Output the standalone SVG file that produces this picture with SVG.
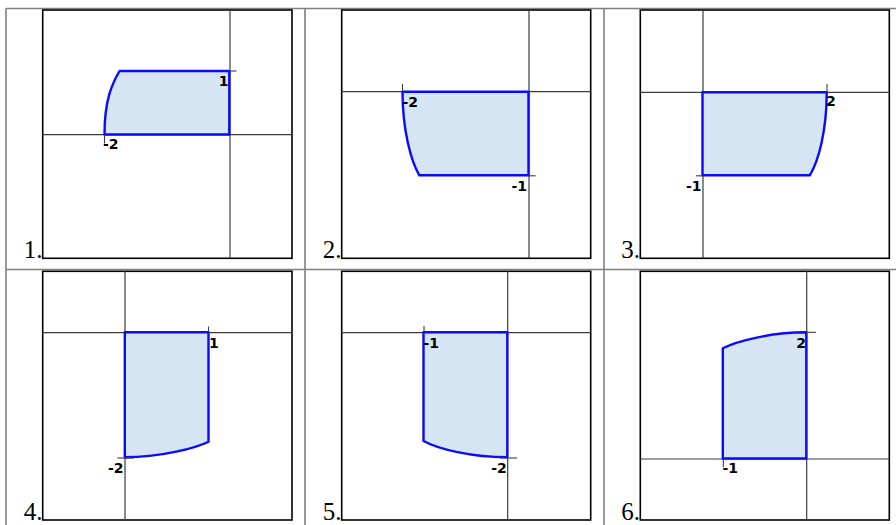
<svg xmlns="http://www.w3.org/2000/svg" width="896" height="525" viewBox="0 0 896 525">
<style>
.tbl{stroke:#808080;stroke-width:1.6;fill:none}
.frame{fill:#fff;stroke:#000;stroke-width:1.6}
.axis{stroke:#3c3c3c;stroke-width:1.2;fill:none}
.tick{stroke:#3c3c3c;stroke-width:1.1;fill:none}
.region{fill:#d6e5f4;stroke:#0a0aff;stroke-width:2.4;stroke-linejoin:round}
.num{font-family:"Liberation Serif","Times New Roman",serif;font-size:25px;fill:#000;text-anchor:end}
.lab{font-family:"DejaVu Sans",sans-serif;font-size:14px;font-weight:bold;fill:#000}
.end{text-anchor:end}
</style>
<rect width="896" height="525" fill="#fff"/>
<g id="table">
<line class="tbl" x1="6" y1="8.5" x2="896" y2="8.5"/>
<line class="tbl" x1="6" y1="269.5" x2="896" y2="269.5"/>
<line class="tbl" x1="6" y1="8.5" x2="6" y2="525"/>
<line class="tbl" x1="305" y1="8.5" x2="305" y2="525"/>
<line class="tbl" x1="604" y1="8.5" x2="604" y2="525"/>
</g>
<g id="plot1">
<rect class="frame" x="42.7" y="10" width="249.3" height="248.3"/>
<line class="axis" x1="230" y1="10" x2="230" y2="258.3"/>
<line class="axis" x1="42.7" y1="134.7" x2="292" y2="134.7"/>
<path class="region" d="M119.5,71 L229.3,71 L229.3,134.5 L104.5,134.5 C104.5,100 112,84 119.5,71 Z"/>
<line class="tick" x1="229.3" y1="71" x2="236.5" y2="71"/>
<line class="tick" x1="104.5" y1="134.7" x2="104.5" y2="143.5"/>
<text class="lab end" x="228.5" y="86">1</text>
<text class="lab" x="103" y="148.5">-2</text>
<text class="num" x="42.5" y="258">1.</text>
</g>
<g id="plot2">
<rect class="frame" x="341.7" y="10" width="249" height="248.3"/>
<line class="axis" x1="529" y1="10" x2="529" y2="258.3"/>
<line class="axis" x1="341.7" y1="91.7" x2="590.7" y2="91.7"/>
<path class="region" d="M402.5,91.7 L528.5,91.7 L528.5,175.3 L419.3,175.3 C411,161 402.5,130 402.5,91.7 Z"/>
<line class="tick" x1="402.5" y1="84" x2="402.5" y2="91.7"/>
<line class="tick" x1="528.5" y1="175.8" x2="535.7" y2="175.8"/>
<text class="lab" x="402.5" y="106.5">-2</text>
<text class="lab end" x="527" y="190.5">-1</text>
<text class="num" x="341.5" y="258">2.</text>
</g>
<g id="plot3">
<rect class="frame" x="640.3" y="10" width="249" height="248.3"/>
<line class="axis" x1="703" y1="10" x2="703" y2="258.3"/>
<line class="axis" x1="640.3" y1="92.3" x2="889.3" y2="92.3"/>
<path class="region" d="M702.5,92.3 L826.7,92.3 C826.7,131 818.5,161 809.8,175.3 L702.5,175.3 Z"/>
<line class="tick" x1="827" y1="84" x2="827" y2="92.3"/>
<line class="tick" x1="696" y1="175.8" x2="703" y2="175.8"/>
<text class="lab" x="826" y="105.5">2</text>
<text class="lab end" x="701.5" y="190.5">-1</text>
<text class="num" x="640" y="258">3.</text>
</g>
<g id="plot4">
<rect class="frame" x="42.7" y="271.3" width="249.3" height="248.7"/>
<line class="axis" x1="125" y1="271.3" x2="125" y2="520"/>
<line class="axis" x1="42.7" y1="332.7" x2="292" y2="332.7"/>
<path class="region" d="M124.8,332.3 L208.5,332.3 L208.5,441.7 C196,448 160,457.3 124.8,457.3 Z"/>
<line class="tick" x1="208.5" y1="326.5" x2="208.5" y2="332.3"/>
<line class="tick" x1="117.5" y1="458" x2="134" y2="458"/>
<text class="lab" x="209" y="347.5">1</text>
<text class="lab end" x="123.5" y="473">-2</text>
<text class="num" x="42.5" y="519.5">4.</text>
</g>
<g id="plot5">
<rect class="frame" x="341.7" y="271.3" width="249" height="248.7"/>
<line class="axis" x1="507.7" y1="271.3" x2="507.7" y2="520"/>
<line class="axis" x1="341.7" y1="332.7" x2="590.7" y2="332.7"/>
<path class="region" d="M423.5,332.3 L507.3,332.3 L507.3,457.3 C472,457.3 438,449 423.5,441 Z"/>
<line class="tick" x1="424" y1="326" x2="424" y2="332.3"/>
<line class="tick" x1="500" y1="458" x2="517" y2="458"/>
<text class="lab" x="423.5" y="347.5">-1</text>
<text class="lab end" x="506.7" y="473">-2</text>
<text class="num" x="341.5" y="519.5">5.</text>
</g>
<g id="plot6">
<rect class="frame" x="640.3" y="271.3" width="249" height="248.7"/>
<line class="axis" x1="806.7" y1="271.3" x2="806.7" y2="520"/>
<line class="axis" x1="640.3" y1="459" x2="889.3" y2="459"/>
<path class="region" d="M722.8,458.5 L806.3,458.5 L806.3,332.3 C771,332.3 737,341 722.8,348.3 Z"/>
<line class="tick" x1="806.3" y1="332.3" x2="816" y2="332.3"/>
<line class="tick" x1="723.3" y1="458.5" x2="723.3" y2="467"/>
<text class="lab end" x="806" y="347.5">2</text>
<text class="lab" x="722.5" y="473">-1</text>
<text class="num" x="640" y="519.5">6.</text>
</g>
</svg>
